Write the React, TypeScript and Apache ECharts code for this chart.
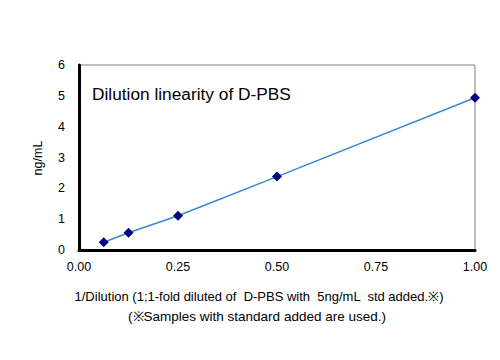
import React, { useEffect, useRef } from "react";
import * as echarts from "echarts";

const xValues = [0.0625, 0.125, 0.25, 0.5, 1.0];
const yValues = [0.25, 0.56, 1.11, 2.38, 4.94];
const xTicks = [0, 0.25, 0.5, 0.75, 1.0];
const yTicks = [0, 1, 2, 3, 4, 5, 6];
const titleText = "Dilution linearity of D-PBS";
const yAxisName = "ng/mL";
const xNameLine1 = "1/Dilution (1;1-fold diluted of  D-PBS with  5ng/mL  std added.\u203B)";
const xNameLine2 = "(\u203BSamples with standard added are used.)";

const FONT = "Liberation Sans, Arial, sans-serif";

export default function App() {
  const ref = useRef<HTMLDivElement>(null);
  useEffect(() => {
    if (!ref.current) return;
    const chart = echarts.init(ref.current, null, { renderer: "svg" });
    chart.setOption({
      animation: false,
      backgroundColor: "#ffffff",
      grid: {
        left: 79,
        right: 25,
        top: 65,
        bottom: 110,
        show: true,
        borderColor: "#808080",
        borderWidth: 1,
      },
      xAxis: {
        type: "value",
        min: 0,
        max: 1,
        interval: 0.25,
        axisLine: { show: true, onZero: false, lineStyle: { color: "#000", width: 3 } },
        axisTick: { show: false },
        splitLine: { show: false },
        axisLabel: {
          color: "#000",
          fontFamily: FONT,
          fontSize: 12.5,
          margin: 10,
          formatter: (v: number) => (xTicks.includes(v) ? v.toFixed(2) : ""),
        },
      },
      yAxis: {
        type: "value",
        min: 0,
        max: 6,
        interval: 1,
        axisLine: { show: true, onZero: false, lineStyle: { color: "#000", width: 3 } },
        axisTick: { show: false },
        splitLine: { show: false },
        axisLabel: {
          color: "#000",
          fontFamily: FONT,
          fontSize: 12.5,
          margin: 14,
          formatter: (v: number) => (yTicks.includes(v) ? String(v) : ""),
        },
      },
      graphic: [
        {
          type: "text",
          left: 92,
          top: 85,
          style: { text: titleText, fill: "#000", font: `17.3px ${FONT}` },
        },
        {
          type: "text",
          x: 38,
          y: 158,
          rotation: Math.PI / 2,
          style: {
            text: yAxisName,
            fill: "#000",
            font: `12.5px ${FONT}`,
            align: "center",
            verticalAlign: "middle",
          },
        },
        {
          type: "text",
          x: 259,
          y: 296,
          style: {
            text: xNameLine1,
            fill: "#000",
            font: `13px ${FONT}`,
            align: "center",
            verticalAlign: "middle",
          },
        },
        {
          type: "text",
          x: 257,
          y: 316,
          style: {
            text: xNameLine2,
            fill: "#000",
            font: `13.5px ${FONT}`,
            align: "center",
            verticalAlign: "middle",
          },
        },
      ],
      series: [
        {
          type: "line",
          data: xValues.map((x, i) => [x, yValues[i]]),
          symbol: "diamond",
          symbolSize: 10,
          itemStyle: { color: "#000080" },
          lineStyle: { color: "#3a86d4", width: 1.5 },
          z: 3,
        },
      ],
    });
    return () => chart.dispose();
  }, []);
  return <div ref={ref} style={{ width: 500, height: 360, position: "absolute", left: 0, top: 0 }} />;
}
